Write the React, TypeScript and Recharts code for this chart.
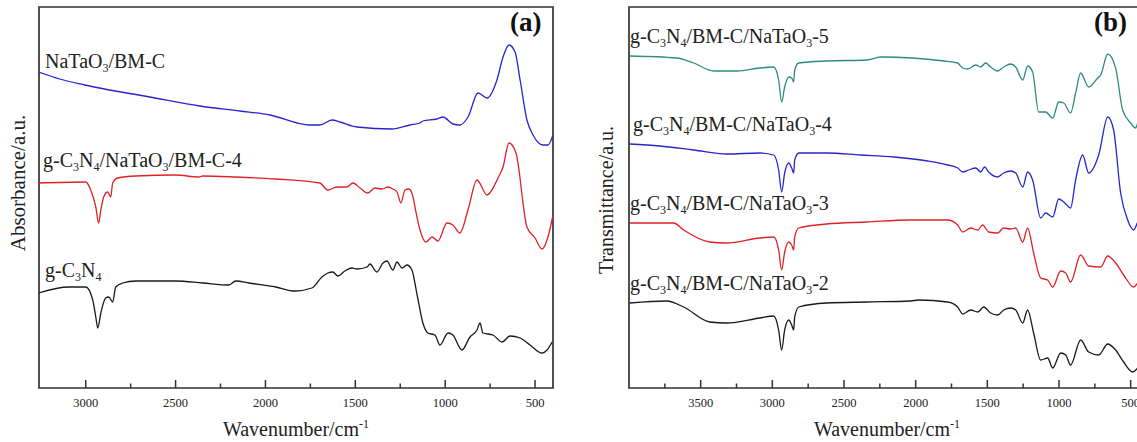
import React from "react";
import { LineChart, Line, XAxis, YAxis, ReferenceArea, ReferenceLine } from "recharts";

// [wavenumber (cm-1), signal (arbitrary, offset per trace)]
const NATAO3_BMC: [number, number][] = [
  [3262, 316], [3145, 309], [3006, 303], [2644, 291], [2365, 282], [2143, 277], [1975, 273],
  [1753, 263], [1697, 263], [1630, 268], [1586, 266], [1491, 261], [1296, 259], [1196, 263],
  [1140, 265], [1124, 267], [1046, 269], [1012, 271], [957, 264], [918, 263], [873, 271],
  [817, 295], [767, 290], [712, 308], [678, 331], [645, 343], [611, 336], [583, 308],
  [545, 268], [511, 253], [456, 243], [428, 243], [400, 253]
];

const G_NATAO3_BMC4: [number, number][] = [
  [3262, 205], [3000, 206], [2972, 198], [2944, 181], [2928, 165], [2916, 178], [2900, 191],
  [2878, 196], [2861, 191], [2850, 205], [2822, 210], [2722, 212], [2499, 213], [2371, 211],
  [2349, 212], [2165, 211], [1942, 209], [1697, 205], [1653, 198], [1602, 201], [1547, 201],
  [1513, 205], [1474, 200], [1430, 195], [1391, 200], [1352, 199], [1318, 201], [1291, 199],
  [1268, 196], [1246, 185], [1224, 198], [1202, 199], [1179, 191], [1168, 181], [1140, 158],
  [1107, 146], [1073, 151], [1040, 147], [990, 165], [957, 163], [918, 155], [873, 178],
  [823, 208], [767, 193], [706, 210], [678, 221], [645, 245], [606, 235], [545, 161],
  [500, 150], [461, 139], [428, 151], [400, 173]
];

const G_C3N4: [number, number][] = [
  [3262, 95], [3095, 101], [3000, 101], [2961, 88], [2944, 71], [2933, 60], [2916, 75],
  [2889, 90], [2872, 91], [2850, 86], [2833, 101], [2794, 105], [2722, 107], [2499, 107],
  [2349, 105], [2204, 103], [2165, 107], [2092, 105], [1942, 101], [1836, 97], [1742, 100],
  [1686, 111], [1653, 115], [1625, 116], [1597, 112], [1558, 117], [1519, 120], [1491, 119],
  [1435, 121], [1419, 124], [1380, 116], [1346, 125], [1324, 127], [1291, 118], [1268, 126],
  [1240, 120], [1213, 123], [1185, 118], [1157, 94], [1124, 65], [1096, 55], [1057, 53],
  [1029, 43], [984, 55], [957, 53], [907, 38], [862, 51], [823, 58], [806, 65], [790, 55],
  [734, 53], [684, 46], [639, 52], [583, 50], [528, 43], [461, 35], [433, 38], [405, 46]
];

const TRACE_5: [number, number][] = [
  [3995, 332], [3667, 330], [3549, 325], [3409, 317], [3249, 317], [3088, 320], [2991, 321],
  [2956, 308], [2935, 286], [2914, 301], [2886, 311], [2865, 310], [2851, 306], [2844, 318],
  [2816, 325], [2621, 327], [2342, 328], [2244, 331], [1805, 327], [1707, 325], [1672, 320],
  [1637, 319], [1581, 323], [1546, 321], [1512, 325], [1477, 321], [1428, 317], [1386, 321],
  [1337, 324], [1302, 321], [1253, 308], [1219, 322], [1184, 316], [1142, 276], [1093, 276],
  [1044, 270], [1002, 286], [967, 285], [919, 275], [884, 295], [849, 315], [793, 301],
  [730, 310], [709, 313], [660, 334], [605, 320], [556, 278], [500, 265], [465, 260],
  [451, 265], [402, 280]
];

const TRACE_4: [number, number][] = [
  [3995, 244], [3786, 242], [3549, 238], [3319, 234], [3088, 235], [2991, 233], [2956, 218],
  [2935, 196], [2914, 215], [2886, 225], [2865, 220], [2851, 215], [2844, 228], [2816, 235],
  [2621, 235], [2384, 233], [2153, 231], [1916, 227], [1777, 223], [1707, 220], [1672, 216],
  [1630, 218], [1581, 220], [1546, 216], [1519, 221], [1491, 216], [1428, 211], [1386, 215],
  [1337, 217], [1302, 215], [1253, 201], [1219, 216], [1184, 208], [1128, 170], [1093, 175],
  [1044, 171], [1002, 189], [967, 186], [919, 180], [884, 208], [835, 233], [793, 215],
  [723, 233], [660, 271], [619, 258], [570, 195], [521, 168], [479, 158], [451, 166], [402, 180]
];

const TRACE_3: [number, number][] = [
  [3995, 165], [3688, 165], [3619, 158], [3437, 146], [3319, 145], [3088, 150], [2991, 151],
  [2956, 138], [2935, 118], [2914, 136], [2886, 146], [2865, 143], [2851, 138], [2844, 151],
  [2816, 160], [2621, 164], [2342, 166], [2035, 168], [1777, 168], [1707, 163], [1672, 156],
  [1616, 160], [1567, 158], [1533, 163], [1491, 156], [1428, 155], [1386, 160], [1337, 159],
  [1302, 160], [1253, 146], [1219, 160], [1177, 135], [1128, 110], [1079, 108], [1044, 101],
  [988, 117], [953, 115], [919, 106], [849, 133], [793, 122], [709, 121], [660, 132],
  [605, 125], [549, 113], [479, 101], [451, 105], [402, 115]
];

const TRACE_2: [number, number][] = [
  [3995, 85], [3737, 87], [3619, 81], [3437, 66], [3319, 65], [3088, 70], [2991, 72],
  [2956, 58], [2935, 38], [2914, 58], [2886, 68], [2865, 63], [2851, 58], [2844, 71],
  [2816, 81], [2621, 85], [2342, 86], [2035, 87], [1979, 88], [1777, 86], [1707, 81],
  [1672, 74], [1616, 78], [1567, 76], [1526, 81], [1477, 75], [1428, 73], [1386, 78],
  [1337, 80], [1302, 78], [1253, 65], [1219, 78], [1177, 55], [1128, 28], [1079, 30],
  [1044, 20], [988, 35], [953, 33], [919, 23], [849, 48], [793, 36], [723, 33], [660, 44],
  [605, 38], [549, 26], [486, 16], [451, 20], [402, 30]
];

const TICKS_A = [500, 750, 1000, 1250, 1500, 1750, 2000, 2250, 2500, 2750, 3000];
const TICKS_B = [500, 750, 1000, 1250, 1500, 1750, 2000, 2250, 2500, 2750, 3000, 3250, 3500, 3750];
const Y_DOMAIN: [number, number] = [0, 381];

const AXIS = "#333";
const SERIF = '"Liberation Serif", "Times New Roman", serif';
const toPoints = (arr: [number, number][]) => arr.map(([wn, v]) => ({ wn, v }));

function WnLabel(props: any) {
  const { x, y, payload } = props;
  const val = payload.value;
  if (val % 500 !== 0) return <g />;
  return (
    <text x={x} y={y + 19} textAnchor="middle" style={{ fontSize: 12.5, fontFamily: SERIF, fill: "#222" }}>
      {val}
    </text>
  );
}

function Sub({ children }: { children: React.ReactNode }) {
  return <span style={{ fontSize: "0.6em", position: "relative", top: "0.35em" }}>{children}</span>;
}

function Panel({
  series,
  domain,
  ticks,
  width,
  margin
}: {
  series: { data: [number, number][]; color: string }[];
  domain: [number, number];
  ticks: number[];
  width: number;
  margin: { top: number; right: number; bottom: number; left: number };
}) {
  return (
    <LineChart width={width} height={442} margin={margin}>
      <XAxis
        xAxisId="b"
        type="number"
        dataKey="wn"
        domain={domain}
        reversed
        allowDataOverflow
        ticks={ticks}
        interval={0}
        tick={(p: any) => <WnLabel {...p} />}
        tickLine={false}
        tickSize={0}
        tickMargin={0}
        height={30}
        axisLine={false}
      />
      <YAxis yAxisId="l" type="number" domain={Y_DOMAIN} hide />
      {series.map((s, i) => (
        <Line
          key={i}
          xAxisId="b"
          yAxisId="l"
          data={toPoints(s.data)}
          dataKey="v"
          type="monotone"
          stroke={s.color}
          strokeWidth={1.3}
          dot={false}
          activeDot={false}
          isAnimationActive={false}
        />
      ))}
      {/* inward tick marks: y domain is 1 unit per pixel */}
      {ticks.map((t) => (
        <ReferenceLine
          key={t}
          xAxisId="b"
          yAxisId="l"
          ifOverflow="visible"
          segment={[
            { x: t, y: 0 },
            { x: t, y: t % 500 === 0 ? 8 : 4.5 }
          ]}
          stroke={AXIS}
          strokeWidth={1.5}
        />
      ))}
      <ReferenceArea
        xAxisId="b"
        yAxisId="l"
        x1={domain[0]}
        x2={domain[1]}
        y1={Y_DOMAIN[0]}
        y2={Y_DOMAIN[1]}
        ifOverflow="visible"
        fill="none"
        fillOpacity={0}
        stroke={AXIS}
        strokeWidth={1.7}
      />
    </LineChart>
  );
}

const labelStyle = (left: number, top: number): React.CSSProperties => ({
  position: "absolute",
  left,
  top,
  fontSize: 20,
  lineHeight: "20px",
  whiteSpace: "nowrap",
  color: "#222"
});

export default function App() {
  return (
    <div
      style={{
        position: "fixed",
        left: 0,
        top: 0,
        width: 1137,
        height: 442,
        overflow: "hidden",
        background: "#fff",
        fontFamily: SERIF
      }}
    >
      <div style={{ position: "absolute", left: 0, top: 0 }}>
        <Panel
          width={560}
          margin={{ top: 7, right: 7, bottom: 24, left: 39 }}
          domain={[400, 3260]}
          ticks={TICKS_A}
          series={[
            { data: NATAO3_BMC, color: "#2626cc" },
            { data: G_NATAO3_BMC4, color: "#e02226" },
            { data: G_C3N4, color: "#1a1a1a" }
          ]}
        />
      </div>
      <div style={{ position: "absolute", left: 590, top: 0 }}>
        <Panel
          width={560}
          margin={{ top: 7, right: 5, bottom: 24, left: 39 }}
          domain={[400, 4000]}
          ticks={TICKS_B}
          series={[
            { data: TRACE_5, color: "#2e8c7e" },
            { data: TRACE_4, color: "#2626cc" },
            { data: TRACE_3, color: "#e02226" },
            { data: TRACE_2, color: "#1a1a1a" }
          ]}
        />
      </div>

      {/* panel (a) texts */}
      <div style={labelStyle(45, 51)}>
        NaTaO<Sub>3</Sub>/BM-C
      </div>
      <div style={labelStyle(43, 150)}>
        g-C<Sub>3</Sub>N<Sub>4</Sub>/NaTaO<Sub>3</Sub>/BM-C-4
      </div>
      <div style={labelStyle(45, 260)}>
        g-C<Sub>3</Sub>N<Sub>4</Sub>
      </div>
      <div style={{ position: "absolute", left: 510, top: 9, fontSize: 27, lineHeight: "27px", fontWeight: "bold", color: "#111" }}>
        (a)
      </div>
      <div
        style={{
          position: "absolute",
          left: 18,
          top: 183,
          transform: "translate(-50%, -50%) rotate(-90deg)",
          fontSize: 21,
          lineHeight: "21px",
          whiteSpace: "nowrap",
          color: "#222"
        }}
      >
        Absorbance/a.u.
      </div>
      <div style={{ position: "absolute", left: 39, width: 514, top: 419, textAlign: "center", fontSize: 20, lineHeight: "20px", color: "#222" }}>
        Wavenumber/cm<sup style={{ fontSize: 12, lineHeight: 0 }}>-1</sup>
      </div>

      {/* panel (b) texts */}
      <div style={labelStyle(630, 26)}>
        g-C<Sub>3</Sub>N<Sub>4</Sub>/BM-C/NaTaO<Sub>3</Sub>-5
      </div>
      <div style={labelStyle(633, 114)}>
        g-C<Sub>3</Sub>N<Sub>4</Sub>/BM-C/NaTaO<Sub>3</Sub>-4
      </div>
      <div style={labelStyle(630, 193)}>
        g-C<Sub>3</Sub>N<Sub>4</Sub>/BM-C/NaTaO<Sub>3</Sub>-3
      </div>
      <div style={labelStyle(630, 273)}>
        g-C<Sub>3</Sub>N<Sub>4</Sub>/BM-C/NaTaO<Sub>3</Sub>-2
      </div>
      <div style={{ position: "absolute", left: 1094, top: 9, fontSize: 27, lineHeight: "27px", fontWeight: "bold", color: "#111" }}>
        (b)
      </div>
      <div
        style={{
          position: "absolute",
          left: 606,
          top: 200,
          transform: "translate(-50%, -50%) rotate(-90deg)",
          fontSize: 20,
          lineHeight: "20px",
          whiteSpace: "nowrap",
          color: "#222"
        }}
      >
        Transmittance/a.u.
      </div>
      <div style={{ position: "absolute", left: 629, width: 516, top: 419, textAlign: "center", fontSize: 20, lineHeight: "20px", color: "#222" }}>
        Wavenumber/cm<sup style={{ fontSize: 12, lineHeight: 0 }}>-1</sup>
      </div>
    </div>
  );
}
